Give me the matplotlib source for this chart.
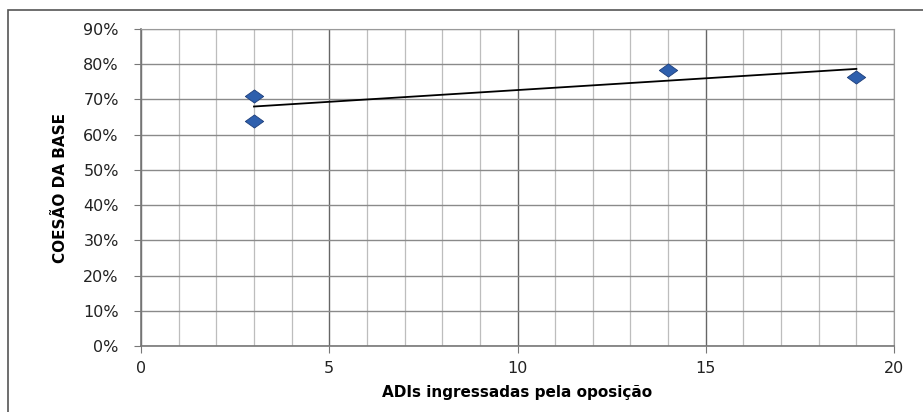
import matplotlib.pyplot as plt
import numpy as np
from matplotlib.patches import Rectangle
from matplotlib.path import Path
from matplotlib.ticker import MultipleLocator, PercentFormatter

# Data
adis = [3, 3, 14, 19]
coesao = [71, 64, 78.5, 76.5]

x_label = 'ADIs ingressadas pela oposição'
y_label = 'COESÃO DA BASE'

plt.rcParams['font.family'] = ['DejaVu Sans']

fig = plt.figure(figsize=(9.23, 4.12), dpi=100)
ax = fig.add_axes([0.1528, 0.1602, 0.8158, 0.7694])

# outer chart border (bottom runs off the image)
fig.patches.append(Rectangle((8 / 923, -0.05), 2, 1 - 10 / 412 + 0.05,
                             transform=fig.transFigure, fill=False,
                             edgecolor='#555555', linewidth=1.2))

# linear trendline
slope, intercept = np.polyfit(adis, coesao, 1)
xs = np.array([min(adis), max(adis)])
ax.plot(xs, slope * xs + intercept, color='black', linewidth=1.3, zorder=3)

# slightly wide diamond like the scanned original
wide_diamond = Path([(-1.4, 0), (0, 1), (1.4, 0), (0, -1), (-1.4, 0)],
                    [Path.MOVETO, Path.LINETO, Path.LINETO, Path.LINETO, Path.CLOSEPOLY])
ax.scatter(adis, coesao, marker=wide_diamond, s=175, color='#2E5FAD',
           edgecolors='#1F3F7A', linewidths=0.6, zorder=4)

ax.set_xlim(0, 20)
ax.set_ylim(0, 90)
ax.xaxis.set_major_locator(MultipleLocator(5))
ax.xaxis.set_minor_locator(MultipleLocator(1))
ax.yaxis.set_major_locator(MultipleLocator(10))
ax.yaxis.set_major_formatter(PercentFormatter(decimals=0))

ax.grid(which='major', axis='x', color='#666666', linewidth=1.0)
ax.grid(which='minor', axis='x', color='#bdbdbd', linewidth=0.9)
ax.grid(which='major', axis='y', color='#8a8a8a', linewidth=1.0)
ax.set_axisbelow(True)

for s in ['top', 'right']:
    ax.spines[s].set_color('#9a9a9a')
for s in ['left', 'bottom']:
    ax.spines[s].set_color('#777777')
    ax.spines[s].set_linewidth(1.2)

ax.tick_params(axis='both', which='major', labelsize=11.5, color='#777777',
               length=5, labelcolor='#222222')
ax.tick_params(axis='x', which='minor', length=0)
ax.tick_params(axis='x', pad=6)
ax.tick_params(axis='y', pad=11)

ax.set_xlabel(x_label, fontsize=11, fontweight='bold', labelpad=6)
ax.set_ylabel(y_label, fontsize=11, fontweight='bold', labelpad=11)

fig.savefig('out.png', dpi=100)
